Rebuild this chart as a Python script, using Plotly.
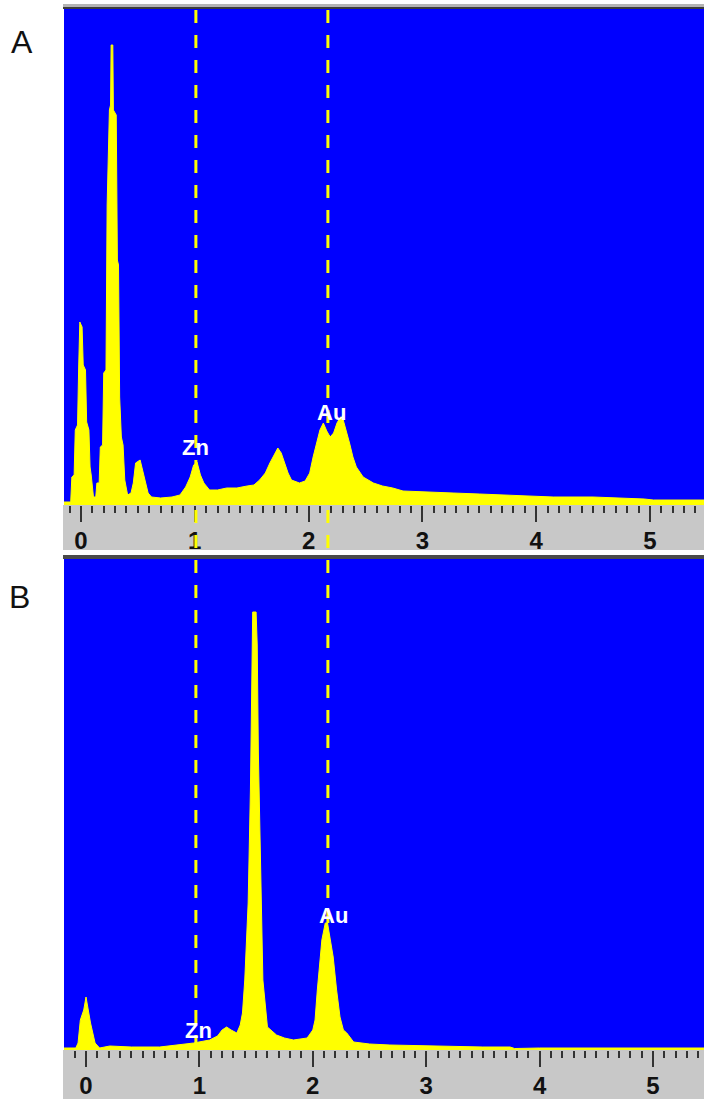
import plotly.graph_objects as go

# ---------------- data (counts in arbitrary units) ----------------
a_energy = [-0.15, -0.09, -0.08, -0.06, -0.05, -0.03, -0.02, -0.01, 0.01, 0.02, 0.04, 0.05,
            0.07, 0.08, 0.09, 0.11, 0.13, 0.14, 0.16, 0.17, 0.19, 0.20, 0.22, 0.23, 0.25,
            0.26, 0.265, 0.28, 0.285, 0.31, 0.32, 0.33, 0.34, 0.355, 0.37, 0.385, 0.41, 0.44,
            0.46, 0.48, 0.52, 0.54, 0.56, 0.59, 0.62, 0.70, 0.80, 0.87, 0.92, 0.96, 0.99,
            1.02, 1.05, 1.08, 1.13, 1.20, 1.28, 1.37, 1.46, 1.52, 1.57, 1.62, 1.66, 1.70,
            1.73, 1.76, 1.79, 1.82, 1.85, 1.92, 1.97, 2.01, 2.04, 2.07, 2.10, 2.13, 2.16,
            2.19, 2.22, 2.25, 2.28, 2.30, 2.33, 2.36, 2.39, 2.42, 2.48, 2.57, 2.65, 2.74,
            2.83, 3.00, 3.27, 3.50, 3.70, 3.90, 4.15, 4.50, 4.82, 4.95, 5.03, 5.20, 5.48]
a_counts = [3, 3, 28, 30, 75, 80, 138, 183, 178, 140, 135, 83,
            75, 38, 30, 8, 8, 22, 22, 58, 60, 132, 135, 300, 395,
            400, 460, 460, 395, 390, 245, 240, 108, 68, 60, 25, 10, 12,
            22, 42, 45, 35, 25, 12, 8, 7, 8, 10, 18, 28, 40,
            43, 30, 22, 15, 15, 17, 17, 19, 20, 25, 32, 42, 50,
            57, 52, 42, 32, 25, 22, 24, 32, 48, 62, 75, 82, 74,
            68, 72, 82, 88, 87, 75, 62, 48, 38, 28, 22, 19, 17,
            14, 13, 12, 11, 10, 9, 8, 8, 7, 6, 5, 5, 5]

b_energy = [-0.20, -0.09, -0.07, -0.05, -0.02, 0.00, 0.02, 0.04, 0.08, 0.12, 0.21, 0.40,
            0.65, 0.80, 0.95, 1.09, 1.16, 1.20, 1.24, 1.28, 1.33, 1.36, 1.38, 1.40, 1.43,
            1.45, 1.46, 1.47, 1.50, 1.51, 1.52, 1.54, 1.56, 1.60, 1.68, 1.75, 1.83, 1.95,
            2.00, 2.02, 2.04, 2.08, 2.11, 2.13, 2.15, 2.18, 2.21, 2.24, 2.27, 2.30, 2.36,
            2.50, 2.68, 3.00, 3.50, 3.74, 3.78, 4.00, 5.45]
b_counts = [2, 2, 7, 30, 40, 53, 40, 27, 7, 2, 4, 3,
            3, 5, 7, 10, 14, 20, 23, 20, 17, 25, 37, 70, 147,
            260, 380, 438, 438, 405, 297, 173, 70, 23, 15, 12, 10, 12,
            20, 30, 60, 110, 127, 127, 115, 93, 60, 33, 20, 17, 8,
            6, 5, 4, 3, 3, 1.5, 2, 2]

element_lines = [1.01, 2.17]          # dashed reference lines (keV)
labels_a = [("Zn", 1.01, 58), ("Au", 2.20, 93)]
labels_b = [("Zn", 0.99, 20), ("Au", 2.18, 135)]
major_ticks = [0, 1, 2, 3, 4, 5]
medium_ticks = [0.5, 1.5, 2.5, 3.5, 4.5]
panel_letters = ["A", "B"]

# ---------------- styling / layout ----------------
W, H = 704, 1099
BLUE = "#0000FF"
YELLOW = "#FFFF00"
GRAY = "#C8C8C8"
TICK = "#333333"


def py(px):
    return 1 - px / H


fig = go.Figure()
fig.add_trace(go.Scatter(x=a_energy, y=a_counts, xaxis="x", yaxis="y", mode="lines",
                         fill="tozeroy", fillcolor=YELLOW, line=dict(color=YELLOW, width=1),
                         hoverinfo="skip", showlegend=False))
fig.add_trace(go.Scatter(x=b_energy, y=b_counts, xaxis="x2", yaxis="y2", mode="lines",
                         fill="tozeroy", fillcolor=YELLOW, line=dict(color=YELLOW, width=1),
                         hoverinfo="skip", showlegend=False))

xdom = [64 / W, 1]
tickfont = dict(family="Liberation Sans, Arial", size=24, color="#111111", weight="bold")


def xaxis_common(rng, anchor):
    return dict(domain=xdom, anchor=anchor, range=rng, tickvals=major_ticks,
                ticktext=[str(t) for t in major_ticks], ticks="outside", ticklen=16,
                tickwidth=2, tickcolor=TICK, showline=False, showgrid=False, zeroline=False,
                tickfont=tickfont, ticklabelstandoff=-2, fixedrange=True,
                minor=dict(dtick=0.1, tick0=0, ticks="outside", ticklen=7, tickwidth=2,
                           tickcolor=TICK, showgrid=False))


def medium_axis(rng, anchor, over):
    return dict(domain=xdom, anchor=anchor, overlaying=over, range=rng, tickvals=medium_ticks,
                ticks="outside", ticklen=12, tickwidth=2, tickcolor=TICK, showticklabels=False,
                showline=False, showgrid=False, zeroline=False, fixedrange=True)


range_a = [-0.149, 5.475]
range_b = [-0.194, 5.45]

fig.update_layout(
    width=W, height=H,
    margin=dict(l=0, r=0, t=0, b=0),
    paper_bgcolor="white", plot_bgcolor=BLUE,
    xaxis=xaxis_common(range_a, "y"),
    xaxis2=xaxis_common(range_b, "y2"),
    xaxis3=medium_axis(range_a, "y", "x"),
    xaxis4=medium_axis(range_b, "y2", "x2"),
    yaxis=dict(domain=[py(505), py(9)], range=[0, 496], visible=False, fixedrange=True),
    yaxis2=dict(domain=[py(1050), py(559)], range=[0, 491], visible=False, fixedrange=True),
    showlegend=False,
)

shapes = [
    # gray axis strips
    dict(type="rect", xref="paper", yref="paper", x0=63 / W, x1=1, y0=py(550), y1=py(505),
         fillcolor=GRAY, line=dict(width=0), layer="below"),
    dict(type="rect", xref="paper", yref="paper", x0=63 / W, x1=1, y0=0, y1=py(1050),
         fillcolor=GRAY, line=dict(width=0), layer="below"),
    # bevel lines on top of each panel
    dict(type="rect", xref="paper", yref="paper", x0=63 / W, x1=1, y0=py(7), y1=py(4),
         fillcolor="#B4B4B4", line=dict(width=0), layer="below"),
    dict(type="rect", xref="paper", yref="paper", x0=63 / W, x1=1, y0=py(9), y1=py(7),
         fillcolor="#3C3C3C", line=dict(width=0), layer="below"),
    dict(type="rect", xref="paper", yref="paper", x0=63 / W, x1=1, y0=py(559), y1=py(555),
         fillcolor="#4A4A4A", line=dict(width=0), layer="below"),
]
for e in element_lines:
    shapes.append(dict(type="line", xref="x", yref="paper", x0=e, x1=e, y0=py(1048), y1=py(4),
                       line=dict(color=YELLOW, width=3, dash="13px,12px"), layer="above"))
fig.update_layout(shapes=shapes)

annotations = [
    dict(text=panel_letters[0], xref="paper", yref="paper", x=22 / W, y=py(42),
         showarrow=False, font=dict(family="Liberation Sans, Arial", size=32, color="#111111"),
         xanchor="center", yanchor="middle"),
    dict(text=panel_letters[1], xref="paper", yref="paper", x=19 / W, y=py(597),
         showarrow=False, font=dict(family="Liberation Sans, Arial", size=32, color="#111111"),
         xanchor="center", yanchor="middle"),
]
lab_font = dict(family="Liberation Sans, Arial", size=22, color="white", weight="bold")
for t, x, y in labels_a:
    annotations.append(dict(text=t, xref="x", yref="y", x=x, y=y, showarrow=False,
                            font=lab_font, xanchor="center", yanchor="middle"))
for t, x, y in labels_b:
    annotations.append(dict(text=t, xref="x2", yref="y2", x=x, y=y, showarrow=False,
                            font=lab_font, xanchor="center", yanchor="middle"))
fig.update_layout(annotations=annotations)

fig.write_html("out.html", config={"displayModeBar": False},
               post_script="document.body.style.margin='0';document.body.style.overflow='hidden';")
